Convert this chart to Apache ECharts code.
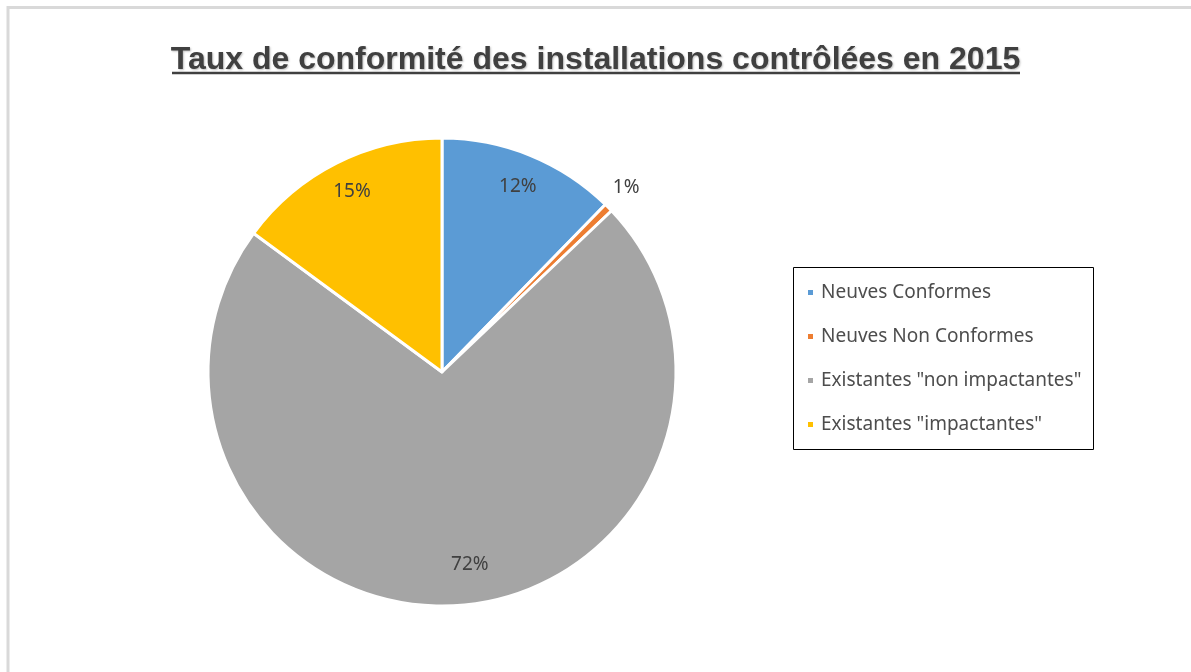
<!DOCTYPE html>
<html>
<head>
<meta charset="utf-8">
<script src="https://cdn.jsdelivr.net/npm/echarts@6/dist/echarts.min.js"></script>
<style>
html,body{margin:0;padding:0;background:#fff;}
#chart{width:1191px;height:672px;}
</style>
</head>
<body>
<div id="chart"></div>
<script>
var titleText = 'Taux de conformité des installations contrôlées en 2015';
var categories = ['Neuves Conformes', 'Neuves Non Conformes', 'Existantes "non impactantes"', 'Existantes "impactantes"'];
var values = [12.3, 0.6, 72.2, 14.9];
var colors = ['#5B9BD5', '#ED7D31', '#A5A5A5', '#FFC000'];

var chart = echarts.init(document.getElementById('chart'));

var mainData = categories.map(function (c, i) {
  return { name: c, value: values[i], itemStyle: { color: colors[i] } };
});
var labelOffsets = [[-1, 4], [39, -41], [15, -11], [2, 2]];
var labelData = categories.map(function (c, i) {
  return { name: c, value: values[i], label: { offset: labelOffsets[i] } };
});

chart.setOption({
  animation: false,
  title: {
    text: titleText,
    left: 'center',
    top: 39,
    textStyle: {
      fontFamily: 'Liberation Sans, Arial, sans-serif',
      fontSize: 32,
      fontWeight: 'bold',
      color: '#404040',
      textShadowColor: 'rgba(0,0,0,0.25)',
      textShadowBlur: 2,
      textShadowOffsetX: 1,
      textShadowOffsetY: 1
    }
  },
  legend: {
    orient: 'vertical',
    left: 793,
    top: 267,
    padding: [16, 10, 17, 13],
    itemGap: 25,
    itemWidth: 7,
    itemHeight: 7,
    icon: 'rect',
    data: categories,
    textStyle: {
      fontFamily: 'Noto Sans, sans-serif',
      fontSize: 19,
      lineHeight: 16,
      color: '#4d4d4d',
      padding: [0, 0, 0, 2]
    }
  },
  graphic: [
    { type: 'line', shape: { x1: 7, y1: 7.5, x2: 1191, y2: 7.5 }, style: { stroke: '#d9d9d9', lineWidth: 3 } },
    { type: 'line', shape: { x1: 8, y1: 6, x2: 8, y2: 672 }, style: { stroke: '#d9d9d9', lineWidth: 3 } },
    { type: 'line', shape: { x1: 172, y1: 73, x2: 1020, y2: 73 }, style: { stroke: '#404040', lineWidth: 2.5 } },
    { type: 'rect', shape: { x: 793.5, y: 267.5, width: 300, height: 182 }, style: { fill: 'none', stroke: '#000', lineWidth: 1 } }
  ],
  series: [
    {
      type: 'pie',
      center: [442, 372],
      radius: [0, 234],
      startAngle: 90,
      clockwise: true,
      label: { show: false },
      labelLine: { show: false },
      itemStyle: { borderColor: '#fff', borderWidth: 3 },
      emphasis: { disabled: true },
      data: mainData
    },
    {
      type: 'pie',
      center: [442, 372],
      radius: [168, 234],
      startAngle: 90,
      clockwise: true,
      silent: true,
      itemStyle: { color: 'rgba(0,0,0,0)', borderWidth: 0 },
      emphasis: { disabled: true },
      labelLine: { show: false },
      label: {
        show: true,
        position: 'inside',
        fontFamily: 'Noto Sans, sans-serif',
        fontSize: 19,
        color: '#404040',
        formatter: function (p) { return Math.round(p.percent) + '%'; }
      },
      data: labelData
    }
  ]
});
</script>
</body>
</html>
